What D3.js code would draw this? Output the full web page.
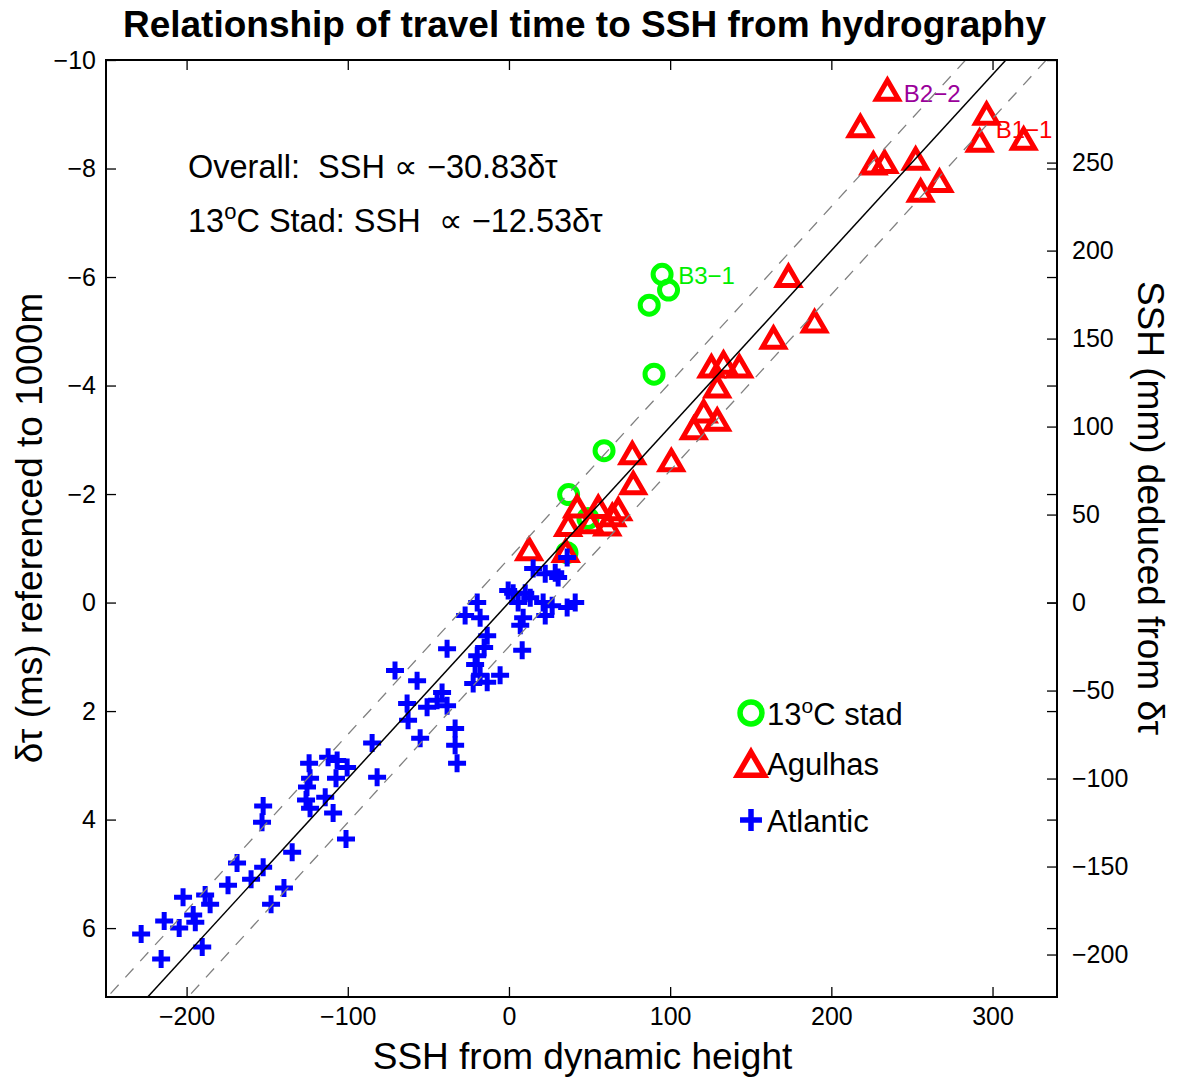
<!DOCTYPE html>
<html>
<head>
<meta charset="utf-8">
<script src="https://cdn.jsdelivr.net/npm/d3@7"></script>
<style>
  body { margin: 0; background: #fff; }
  svg text { font-family: "Liberation Sans", Arial, Helvetica, sans-serif; fill: #000; }
</style>
</head>
<body>
<svg id="chart" width="1179" height="1083"></svg>
<script>
// ---- data: SSH from dynamic height (mm) and travel-time anomaly δτ (ms) ----
const stadSSH  = [95, 99, 87, 90, 59, 37, 49, 36];
const stadDtau = [-6.05, -5.76, -5.48, -4.21, -2.80, -1.99, -1.55, -0.92];

const agulhasSSH  = [234.8, 218.0, 226.1, 233.0, 252.3, 255.4, 267.1, 296.3, 292.0, 319.3,
                     173.4, 189.6, 164.1, 133.1, 125.6, 142.9, 129.2, 120.8, 129.2, 114.6,
                     76.5, 100.7, 77.1, 12.5, 35.2, 42.3, 55.4, 67.8, 36.7, 50.4, 61.0, 64.1];
const agulhasDtau = [-9.46, -8.79, -8.10, -8.13, -8.19, -7.60, -7.78, -9.02, -8.52, -8.56,
                     -6.03, -5.19, -4.89, -4.43, -4.36, -4.36, -3.99, -3.53, -3.38, -3.22,
                     -2.76, -2.63, -2.21, -0.99, -0.96, -1.78, -1.77, -1.73, -1.44, -1.49, -1.45, -1.62];

const atlanticSSH  = [15.0, 22.5, 28.7, 30.5, 36.1, -0.5, 2.6, 10.1, 13.2, 5.7, 21.2, 26.8, 36.1, 41.1,
                      22.5, 8.8, 7.0, 8.2,
                      -19.7, -27.2, -17.9, -13.5, -15.4, -19.7, -21.0, -17.9, -22.2, -13.5, -5.5,
                      -38.4, -41.5, -44.6, -38.4, -50.8, -63.2, -62.6, -55.1, -33.4, -33.4, -32.2,
                      -57.0, -70.7, -84.9, -81.8,
                      -124.0, -112.2, -106.6, -100.4, -123.4, -107.3, -125.3, -114.0, -125.9, -123.4,
                      -109.1, -101.1, -134.5, -152.5, -153.2, -168.7, -152.5, -160.0, -174.3, -139.6,
                      -147.6, -202.2, -188.5, -185.4, -213.9, -204.6, -195.9, -194.6, -228.2, -215.8, -190.3];
const atlanticDtau = [-0.63, -0.53, -0.55, -0.46, -0.83, -0.22, -0.17, -0.17, -0.09, 0.00, 0.00, 0.06, 0.09, 0.00,
                      0.24, 0.28, 0.42, 0.88,
                      0.00, 0.24, 0.28, 0.61, 0.83, 0.98, 1.14, 1.34, 1.49, 1.47, 1.34,
                      0.85, 1.66, 1.80, 1.90, 1.93, 1.86, 2.17, 2.50, 2.32, 2.63, 2.96,
                      1.44, 1.25, 2.59, 3.22,
                      2.96, 2.85, 2.91, 3.04, 3.24, 3.24, 3.40, 3.59, 3.64, 3.79,
                      3.88, 4.36, 4.60, 3.75, 4.05, 4.80, 4.88, 5.10, 5.21, 5.26,
                      5.56, 5.43, 5.39, 5.56, 5.87, 6.00, 5.76, 5.89, 6.11, 6.57, 6.35];

// station labels (text, SSH, δτ, colour)
const stationLabels = [
  { text: "B2\u22122", ssh: 245, dtau: -9.38, color: "#9a009a" },
  { text: "B1\u22121", ssh: 302, dtau: -8.72, color: "#ff0000" },
  { text: "B3\u22121", ssh: 105, dtau: -6.03, color: "#00ee00" }
];

// fit: SSH = slope * δτ, with a ± band
const overallSlope = -30.83;
const bandHalfWidth = 25;

// axes
const xDomain = [-250, 340];
const yDomain = [-10, 7.27];
const xTicks = [-200, -100, 0, 100, 200, 300];
const yTicks = [-10, -8, -6, -4, -2, 0, 2, 4, 6];
const rightTicks = [-200, -150, -100, -50, 0, 50, 100, 150, 200, 250];

// ---- layout ----
const svg = d3.select("#chart");
const L = 106, R = 1057, T = 60, B = 997;

const x = d3.scaleLinear().domain(xDomain).range([L, R]);
const y = d3.scaleLinear().domain(yDomain).range([T, B]);
const yRight = d3.scaleLinear().domain(yDomain.map(d => overallSlope * d)).range([T, B]);

svg.append("defs").append("clipPath").attr("id", "plotClip")
  .append("rect").attr("x", L).attr("y", T).attr("width", R - L).attr("height", B - T);

// title
svg.append("text")
  .attr("x", (L + R) / 2 + 3).attr("y", 37)
  .attr("text-anchor", "middle")
  .style("font-size", "37px").style("font-weight", "bold")
  .text("Relationship of travel time to SSH from hydrography");

const plot = svg.append("g").attr("clip-path", "url(#plotClip)");

// station labels sit beneath the markers
plot.selectAll("text.station").data(stationLabels).join("text")
  .attr("class", "station")
  .attr("x", d => x(d.ssh)).attr("y", d => y(d.dtau))
  .attr("dy", "0.36em")
  .style("font-size", "24px")
  .style("fill", d => d.color)
  .text(d => d.text);

// marker shapes
const triPath = "M0,-9 L11,10 L-11,10 Z";
const crossPath = "M-9,0 H9 M0,-9 V9";

const zip = (a, b) => a.map((v, i) => [v, b[i]]);

plot.selectAll("circle.stad").data(zip(stadSSH, stadDtau)).join("circle")
  .attr("class", "stad")
  .attr("cx", d => x(d[0])).attr("cy", d => y(d[1]))
  .attr("r", 9)
  .attr("fill", "none").attr("stroke", "#00ff00").attr("stroke-width", 5);

plot.selectAll("path.agulhas").data(zip(agulhasSSH, agulhasDtau)).join("path")
  .attr("class", "agulhas")
  .attr("transform", d => `translate(${x(d[0])},${y(d[1])})`)
  .attr("d", triPath)
  .attr("fill", "none").attr("stroke", "#ff0000").attr("stroke-width", 5)
  .attr("stroke-linejoin", "miter");

plot.selectAll("path.atlantic").data(zip(atlanticSSH, atlanticDtau)).join("path")
  .attr("class", "atlantic")
  .attr("transform", d => `translate(${x(d[0])},${y(d[1])})`)
  .attr("d", crossPath)
  .attr("fill", "none").attr("stroke", "#0000ff").attr("stroke-width", 5);

// fit line and band
const lineThrough = off => yDomain.map(dt => [overallSlope * dt + off, dt]);
const lineGen = d3.line().x(d => x(d[0])).y(d => y(d[1]));

[-bandHalfWidth, bandHalfWidth].forEach(off => {
  plot.append("path")
    .attr("d", lineGen(lineThrough(off)))
    .attr("fill", "none").attr("stroke", "#808080").attr("stroke-width", 1.3)
    .attr("stroke-dasharray", "12,10");
});
plot.append("path")
  .attr("d", lineGen(lineThrough(0)))
  .attr("fill", "none").attr("stroke", "#000").attr("stroke-width", 1.5);

// ---- axes (ticks point inward) ----
const tickFont = "25px";
const gx = svg.append("g").attr("transform", `translate(0,${B})`)
  .call(d3.axisBottom(x).tickValues(xTicks).tickSizeInner(-10).tickSizeOuter(0).tickPadding(10));
const gxTop = svg.append("g").attr("transform", `translate(0,${T})`)
  .call(d3.axisTop(x).tickValues(xTicks).tickSizeInner(-10).tickSizeOuter(0).tickFormat(""));
const gy = svg.append("g").attr("transform", `translate(${L},0)`)
  .call(d3.axisLeft(y).tickValues(yTicks).tickSizeInner(-10).tickSizeOuter(0).tickPadding(10));
const gyMirror = svg.append("g").attr("transform", `translate(${R},0)`)
  .call(d3.axisRight(y).tickValues(yTicks).tickSizeInner(-10).tickSizeOuter(0).tickFormat(""));
const gyRight = svg.append("g").attr("transform", `translate(${R},0)`)
  .call(d3.axisRight(yRight).tickValues(rightTicks).tickSizeInner(-10).tickSizeOuter(0).tickPadding(15));

[gx, gxTop, gy, gyMirror, gyRight].forEach(g => {
  g.select(".domain").remove();
  g.selectAll(".tick line").attr("stroke", "#000").attr("stroke-width", 1.3);
  g.selectAll(".tick text").style("font-size", tickFont).attr("fill", "#000")
    .style("font-family", "'Liberation Sans', Arial, sans-serif");
});

// frame
svg.append("rect").attr("x", L).attr("y", T).attr("width", R - L).attr("height", B - T)
  .attr("fill", "none").attr("stroke", "#000").attr("stroke-width", 2);

// axis titles
svg.append("text")
  .attr("x", (L + R) / 2 + 1).attr("y", 1069)
  .attr("text-anchor", "middle").style("font-size", "37px")
  .text("SSH from dynamic height");

svg.append("text")
  .attr("transform", "translate(42,528) rotate(-90)")
  .attr("text-anchor", "middle").style("font-size", "37px")
  .text("\u03b4\u03c4 (ms) referenced to 1000m");

svg.append("text")
  .attr("transform", "translate(1138,508) rotate(90)")
  .attr("text-anchor", "middle").style("font-size", "37px")
  .text("SSH (mm) deduced from \u03b4\u03c4");

// regression annotations
const ann = svg.append("g").style("font-size", "32.5px");
ann.append("text").attr("x", 188).attr("y", 178)
  .text("Overall:\u00a0 SSH \u221d \u221230.83\u03b4\u03c4");
const ann2 = ann.append("text").attr("x", 188).attr("y", 232);
ann2.append("tspan").text("13");
ann2.append("tspan").attr("dy", "-13").style("font-size", "22px").text("o");
ann2.append("tspan").attr("dy", "13").text("C Stad: SSH \u00a0\u221d \u221212.53\u03b4\u03c4");

// legend
const legend = svg.append("g");
const legendItems = [
  { label: ["13", "o", "C stad"], kind: "stad", yc: 713 },
  { label: ["Agulhas"], kind: "agulhas", yc: 763 },
  { label: ["Atlantic"], kind: "atlantic", yc: 820 }
];
legendItems.forEach(it => {
  const g = legend.append("g").attr("transform", `translate(751,${it.yc}) scale(1.22)`);
  if (it.kind === "stad") {
    g.append("circle").attr("r", 9).attr("fill", "none").attr("stroke", "#00ff00").attr("stroke-width", 4.5);
  } else if (it.kind === "agulhas") {
    g.append("path").attr("d", triPath).attr("fill", "none").attr("stroke", "#ff0000").attr("stroke-width", 4.5);
  } else {
    g.append("path").attr("d", crossPath).attr("fill", "none").attr("stroke", "#0000ff").attr("stroke-width", 4.5);
  }
  const t = legend.append("text").attr("x", 767).attr("y", it.yc + 12).style("font-size", "31px");
  if (it.label.length === 3) {
    t.append("tspan").text(it.label[0]);
    t.append("tspan").attr("dy", "-12").style("font-size", "21px").text(it.label[1]);
    t.append("tspan").attr("dy", "12").text(it.label[2]);
  } else {
    t.text(it.label[0]);
  }
});
</script>
</body>
</html>
